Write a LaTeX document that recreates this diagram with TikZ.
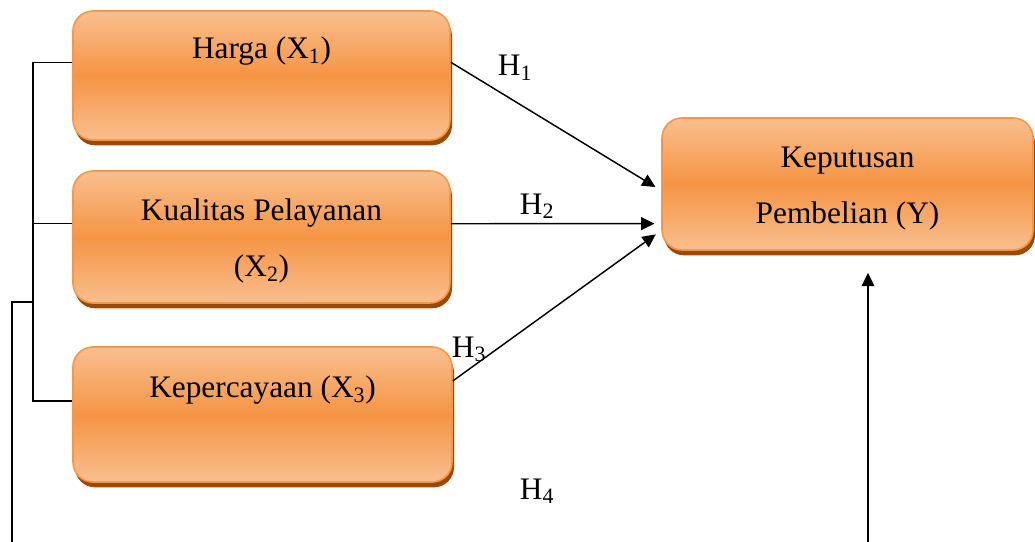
\documentclass[tikz,border=0pt]{standalone}
\usepackage{fontspec}
\setmainfont{Liberation Serif}
\usetikzlibrary{arrows.meta,shadows}

\definecolor{boxlight}{HTML}{F9BF8F}
\definecolor{boxmid}{HTML}{F59444}
\definecolor{boxedge}{HTML}{F79646}
\definecolor{boxshade}{HTML}{9A4A08}

\begin{document}
\begin{tikzpicture}[x=0.75pt,y=-0.75pt,>={Triangle[length=10pt,width=9.5pt]},
                    line width=1.1pt,
                    var node/.style={rounded corners=15pt,draw=boxedge,line width=1.2pt,
                      top color=boxlight,bottom color=boxlight,middle color=boxmid,
                      drop shadow={shadow xshift=1.5pt,shadow yshift=-4pt,fill=boxshade,opacity=1},
                      align=center,inner sep=0pt,font=\fontsize{23.5}{42}\selectfont},
                    hyp/.style={anchor=base,font=\fontsize{23.5}{28}\selectfont},
                    link/.style={->,shorten >=5pt}]
  \useasboundingbox (0,0) rectangle (1035,542);

  % variables
  \node[var node,minimum width=282.75pt,minimum height=96.75pt] (x1) at (261.5,75.5)
    {\strut Harga (X\textsubscript{1})\\\strut};
  \node[var node,minimum width=282.75pt,minimum height=99pt] (x2) at (261.5,237)
    {\strut Kualitas Pelayanan\\\strut(X\textsubscript{2})};
  \node[var node,minimum width=284.25pt,minimum height=101.25pt] (x3) at (262.5,414.5)
    {\strut Kepercayaan (X\textsubscript{3})\\\strut};
  \node[var node,minimum width=278.25pt,minimum height=99pt] (y) at (847.5,184)
    {\strut Keputusan\\\strut Pembelian (Y)};

  % hypotheses
  \node[hyp] (h1) at (515,76) {H\textsubscript{1}};
  \node[hyp] (h2) at (537,214) {H\textsubscript{2}};
  \node[hyp] (h3) at (469,357) {H\textsubscript{3}};
  \node[hyp] (h4) at (537,499) {H\textsubscript{4}};

  \coordinate (lb) at (12,545);
  \coordinate (rb) at (868,545);

  \path (x1.4) edge[link] (y.182)
        (x2.4) edge[link] (y.192)
        (x3.10) edge[link] (y.194);

  \draw (x1.176) -- ++(-39,0) coordinate (bt) |- (x3.176);
  \draw (x2.176) -- (x2.176 -| bt);
  \draw (lb) |- (bt |- 0,302);
  \draw[->,shorten >=16.5pt] (rb) -- (rb |- y.south);
\end{tikzpicture}
\end{document}
